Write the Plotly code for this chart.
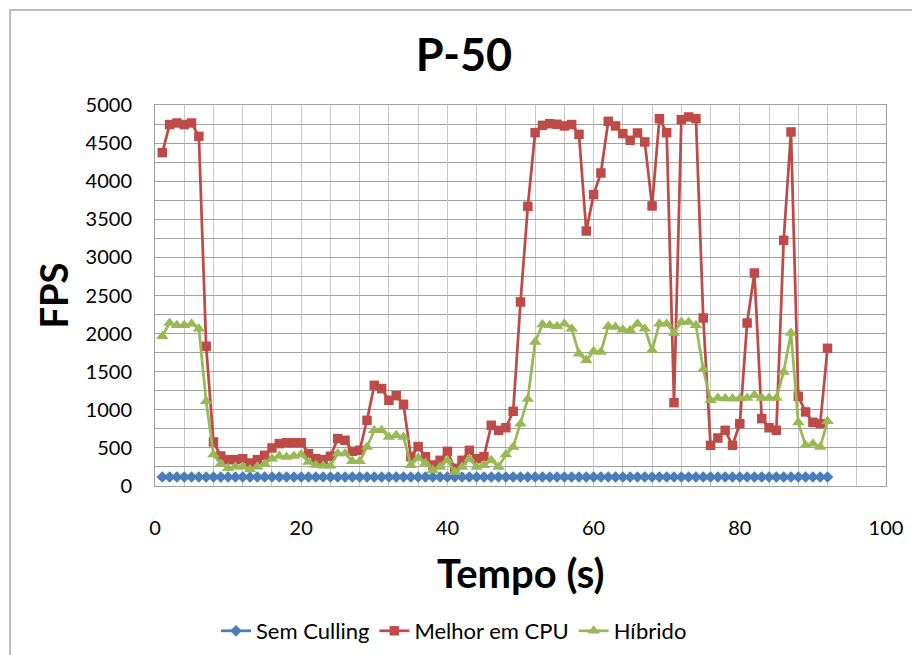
import plotly.graph_objects as go

tempo = list(range(1, 93))

sem_culling = [118] * 92

melhor_cpu = [
    4375, 4743, 4764, 4743, 4764, 4589, 1833, 578, 394, 346,
    346, 358, 302, 346, 403, 499, 556, 568, 568, 568,
    425, 358, 346, 390, 622, 600, 455, 468, 862, 1321,
    1278, 1125, 1185, 1072, 385, 517, 385, 276, 337, 455,
    232, 337, 468, 358, 385, 797, 731, 765, 980, 2415,
    3670, 4637, 4733, 4755, 4747, 4725, 4743, 4615, 3346, 3824,
    4108, 4786, 4725, 4624, 4537, 4633, 4515, 3675, 4821, 4637,
    1094, 4808, 4843, 4821, 2205, 534, 630, 731, 534, 818,
    2139, 2795, 884, 765, 731, 3224, 4646, 1177, 972, 836,
    818, 1807,
]

hibrido = [
    1965, 2139, 2108, 2108, 2130, 2065, 1112, 412, 293, 232,
    254, 254, 215, 254, 293, 358, 394, 381, 394, 412,
    315, 276, 267, 267, 425, 425, 324, 324, 512, 731,
    731, 643, 665, 643, 272, 368, 302, 206, 250, 337,
    184, 250, 358, 250, 272, 337, 250, 412, 512, 818,
    1142, 1890, 2118, 2108, 2095, 2130, 2065, 1737, 1650, 1768,
    1760, 2095, 2087, 2052, 2043, 2130, 2065, 1781, 2130, 2130,
    2008, 2152, 2152, 2108, 1531, 1125, 1155, 1147, 1147, 1147,
    1155, 1190, 1155, 1155, 1155, 1496, 2008, 832, 534, 556,
    512, 849,
]

FONT = "Lato"

fig = go.Figure()
fig.add_trace(go.Scatter(
    x=tempo, y=sem_culling, name="Sem Culling", mode="lines+markers",
    line=dict(color="#4A7EBB", width=2.75),
    marker=dict(symbol="diamond", size=9, color="#4A7EBB"),
))
fig.add_trace(go.Scatter(
    x=tempo, y=melhor_cpu, name="Melhor em CPU", mode="lines+markers",
    line=dict(color="#BE4B48", width=2.75),
    marker=dict(symbol="square", size=9.5, color="#BE4B48"),
))
fig.add_trace(go.Scatter(
    x=tempo, y=hibrido, name="Híbrido", mode="lines+markers",
    line=dict(color="#98B954", width=2.75),
    marker=dict(symbol="triangle-up", size=11, color="#98B954"),
))

fig.update_layout(
    width=912, height=655,
    margin=dict(l=155, r=26, t=105, b=169, autoexpand=False),
    paper_bgcolor="white", plot_bgcolor="white",
    font=dict(family=FONT, size=20, color="black"),
    title=dict(text="<b>P-50</b>", x=464 / 912, xanchor="center",
               y=1 - 55 / 655, yanchor="middle", yref="container", xref="container",
               font=dict(size=45, family=FONT, color="black")),
    showlegend=True,
    legend=dict(orientation="h", x=454 / 912, xanchor="center", xref="container",
                y=1 - 631 / 655, yanchor="middle", yref="container",
                font=dict(size=22, family=FONT), traceorder="normal"),
    xaxis=dict(range=[0, 100], dtick=20, tick0=0, showgrid=True,
               gridcolor="#C8C8C8", gridwidth=1,
               minor=dict(dtick=4, showgrid=True, gridcolor="#C8C8C8", gridwidth=1),
               zeroline=False, showline=True, linecolor="#A0A0A0", linewidth=1,
               mirror=True, ticks="", ticklabelstandoff=24,
               tickfont=dict(size=20, family=FONT)),
    yaxis=dict(range=[0, 5000], dtick=500, tick0=0, showgrid=True,
               gridcolor="#A0A0A0", gridwidth=1,
               minor=dict(dtick=250, showgrid=True, gridcolor="#A0A0A0", gridwidth=1),
               zeroline=False, showline=True, linecolor="#A0A0A0", linewidth=1,
               mirror=True, ticks="", ticklabelstandoff=18,
               tickfont=dict(size=20, family=FONT)),
    annotations=[
        dict(text="<b>Tempo (s)</b>", xref="paper", yref="paper", x=0.5, y=-0.228,
             xanchor="center", yanchor="middle", showarrow=False,
             font=dict(size=40, family=FONT, color="black")),
        dict(text="<b>FPS</b>", xref="paper", yref="paper", x=(52 - 155) / 731, y=0.5,
             xanchor="center", yanchor="middle", showarrow=False, textangle=-90,
             font=dict(size=38, family=FONT, color="black")),
    ],
    shapes=[
        dict(type="rect", xref="paper", yref="paper",
             x0=(10 - 155) / 731, x1=1.2, y0=-0.6, y1=(486 - 10) / 381,
             line=dict(color="#A6A6A6", width=1.5), fillcolor="rgba(0,0,0,0)",
             layer="below"),
    ],
)

fig.write_html("out.html")
